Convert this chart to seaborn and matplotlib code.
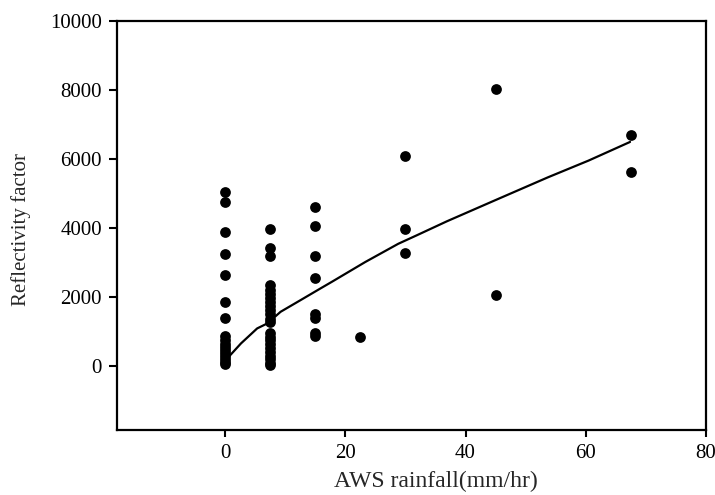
import pandas as pd
import seaborn as sns
import matplotlib.pyplot as plt

# rainfall classes (mm/hr) and reflectivity values
rain_0 = [0] * 17
refl_0 = [5050, 4750, 3900, 3250, 2650, 1850, 1400,
          870, 760, 650, 560, 470, 380, 290, 200, 120, 60]
rain_7 = [7.5] * 23
refl_7 = [3970, 3420, 3190,
          2340, 2220, 2100, 1980, 1860, 1740, 1620, 1500, 1380, 1280,
          970, 860, 750, 640, 530, 420, 310, 200, 100, 40]
rain_15 = [15] * 8
refl_15 = [4620, 4050, 3200, 2550, 1500, 1400, 950, 880]
rain_22 = [22.5]
refl_22 = [850]
rain_30 = [30] * 3
refl_30 = [6080, 3980, 3280]
rain_45 = [45] * 2
refl_45 = [8030, 2060]
rain_67 = [67.5] * 2
refl_67 = [6700, 5620]

# fitted curve
curve_x = [0.6, 2.6, 5.3, 7.0, 9.2, 12.5, 15.8, 17.7, 23.3, 28.8, 31.8,
           36.9, 45.3, 53.7, 60.5, 67.4]
curve_y = [280, 660, 1095, 1240, 1576, 1911, 2248, 2440, 3017, 3545, 3784,
           4196, 4833, 5467, 5954, 6493]

df = pd.DataFrame({
    'rain': rain_0 + rain_7 + rain_15 + rain_22 + rain_30 + rain_45 + rain_67,
    'refl': refl_0 + refl_7 + refl_15 + refl_22 + refl_30 + refl_45 + refl_67,
})
df_curve = pd.DataFrame({'rain': curve_x, 'refl': curve_y})

sns.set_style('ticks')
plt.rcParams['font.family'] = ['Liberation Serif', 'DejaVu Serif']
plt.rcParams['axes.linewidth'] = 1.6
plt.rcParams['xtick.major.width'] = 1.5
plt.rcParams['ytick.major.width'] = 1.5
plt.rcParams['xtick.major.size'] = 5
plt.rcParams['ytick.major.size'] = 6
plt.rcParams['axes.edgecolor'] = 'black'
plt.rcParams['xtick.color'] = 'black'
plt.rcParams['ytick.color'] = 'black'

fig = plt.figure(figsize=(7.15, 4.95), dpi=100)
ax = fig.add_axes([0.164, 0.131, 0.823, 0.827])

sns.scatterplot(data=df, x='rain', y='refl', ax=ax, color='black',
                s=60, edgecolor='black', linewidth=0, zorder=3)
sns.lineplot(data=df_curve, x='rain', y='refl', ax=ax, color='black',
             linewidth=1.6, zorder=2)

ax.set_xlim(-18, 80)
ax.set_ylim(-1850, 10000)
ax.set_xticks([0, 20, 40, 60, 80])
ax.set_yticks([0, 2000, 4000, 6000, 8000, 10000])
ax.tick_params(labelsize=15, pad=5)
ax.set_xlabel('AWS rainfall(mm/hr)', fontsize=17)
ax.xaxis.set_label_coords(0.542, -0.1)
ax.set_ylabel('Reflectivity factor', fontsize=15)
ax.yaxis.set_label_coords(-0.146, 0.49)

plt.savefig('out.png', dpi=100)
plt.close()
